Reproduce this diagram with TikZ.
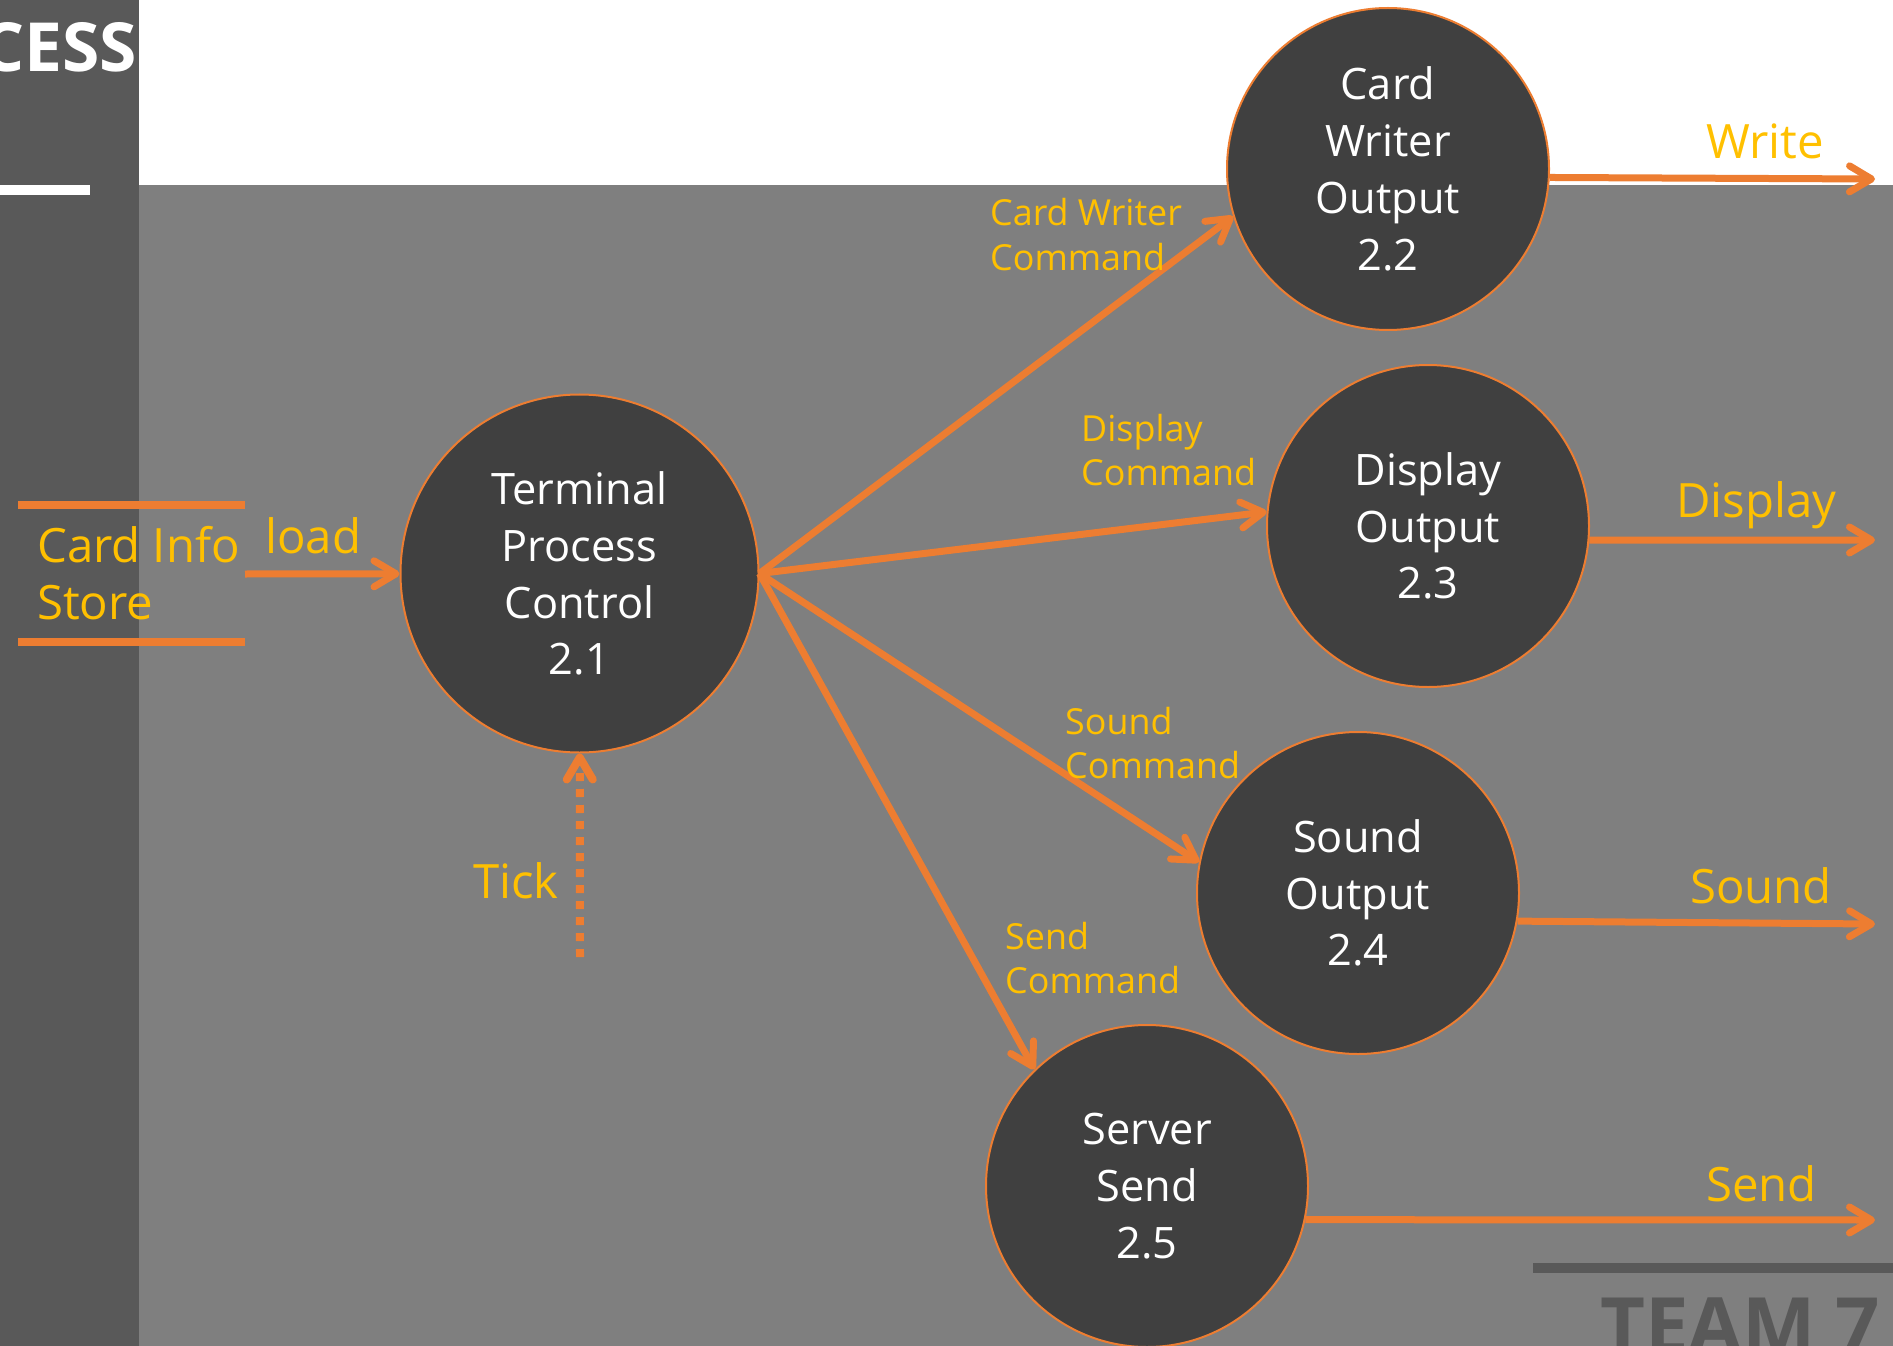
\documentclass[tikz,border=0pt]{standalone}
\usepackage{fontspec}
\setmainfont{Open Sans}
\usetikzlibrary{arrows.meta}
\definecolor{stripgray}{HTML}{595959}
\definecolor{bggray}{HTML}{7F7F7F}
\definecolor{circfill}{HTML}{404040}
\definecolor{dfdorange}{HTML}{ED7D31}
\definecolor{labyellow}{HTML}{FFC000}
\newcommand\twolines[2]{\begin{tabular}[t]{@{}l@{}}#1\\#2\end{tabular}}
\begin{document}
\begin{tikzpicture}[x=1bp,y=-1bp,
  proc/.style={circle,draw=dfdorange,line width=2bp,fill=circfill,minimum size=322bp,inner sep=0pt,
    text=white,align=center,font=\fontsize{43.5}{57}\selectfont},
  biglab/.style={anchor=base west,text=labyellow,inner sep=0pt,font=\fontsize{47.5}{58}\selectfont},
  smalllab/.style={anchor=base west,text=labyellow,inner sep=0pt,font=\fontsize{36}{45}\selectfont},
  flow/.style={draw=dfdorange,line width=7bp,-{Straight Barb[length=22bp,width=26bp,round]}},
  storeline/.style={draw=dfdorange,line width=8bp}]
\useasboundingbox (0,0) rectangle (1893,1346);
\clip (0,0) rectangle (1893,1346);
\fill[white] (0,0) rectangle (1893,1346);
\fill[bggray] (139,185) rectangle (1893,1346);
\fill[stripgray] (0,0) rectangle (139,1346);
\fill[white] (0,185) rectangle (90,195);
\node[anchor=base east,text=white,inner sep=0pt,font=\bfseries\fontsize{68}{72}\selectfont] (title) at (137,72) {CESS};
\fill[stripgray] (1533,1263) rectangle (1893,1273);
\node[anchor=base west,text=stripgray,inner sep=0pt,font=\bfseries\fontsize{78}{80}\selectfont] (team) at (1600,1353) {TEAM 7};

% processes
\node[proc,minimum size=358bp] (T) at (579.5,573.5) {Terminal\\Process\\Control\\2.1};
\node[proc] (CW) at (1388,169) {Card\\Writer\\Output\\2.2};
\node[proc] (D) at (1428,526) {Display\\Output\\2.3};
\node[proc] (S) at (1358,893) {Sound\\Output\\2.4};
\node[proc] (SS) at (1147,1186) {Server\\Send\\2.5};

% data store
\draw[storeline] (18,505) -- (245,505);
\draw[storeline] (18,642) -- (245,642);
\node[biglab] (store) at (37,562) {\twolines{Card Info}{Store}};
\coordinate (ds) at (245,574);
\draw[flow] (ds) -- (T);
\node[biglab] (loadlab) at (265,553) {load};

% tick
\coordinate (tk) at (580,957);
\draw[flow,dash pattern=on 8bp off 8bp,line width=8bp] (tk) -- (T);
\node[biglab] (ticklab) at (473,898) {Tick};

% commands
\draw[flow] (T.east) -- (CW.197);
\draw[flow] (T.east) -- (D.175);
\draw[flow] (T.east) -- (S.169);
\draw[flow] (T.east) -- (SS.134);
\node[smalllab] (cwc) at (990,226) {\twolines{Card Writer}{Command}};
\node[smalllab] (dc) at (1081,441) {\twolines{Display}{Command}};
\node[smalllab] (sc) at (1065,734) {\twolines{Sound}{Command}};
\node[smalllab] (snc) at (1005,949) {\twolines{Send}{Command}};

% outputs
\coordinate (wo) at (1875,179);
\coordinate (do) at (1875,540);
\coordinate (so) at (1875,924);
\coordinate (sno) at (1875,1220);
\draw[flow] (CW.-3.6) -- (wo);
\draw[flow] (D.-5) -- (do);
\draw[flow] (S.-10) -- (so);
\draw[flow] (SS.-12.2) -- (sno);
\node[biglab] (wl) at (1706,159) {Write};
\node[biglab] (dl) at (1676,517) {Display};
\node[biglab] (sl) at (1690,903) {Sound};
\node[biglab] (snl) at (1706,1201) {Send};
\end{tikzpicture}
\end{document}
